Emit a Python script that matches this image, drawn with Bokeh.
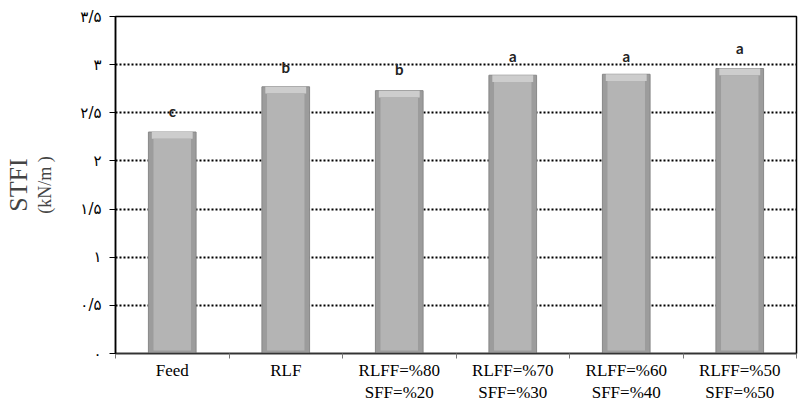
from bokeh.plotting import figure
from bokeh.models import LinearAxis, FixedTicker, Range1d, ColumnDataSource
from bokeh.core.properties import value
from bokeh.embed import file_html
from bokeh.resources import INLINE

categories = ["Feed", "RLF", "RLFF=%80\nSFF=%20", "RLFF=%70\nSFF=%30",
              "RLFF=%60\nSFF=%40", "RLFF=%50\nSFF=%50"]
stfi = [2.30, 2.77, 2.73, 2.89, 2.90, 2.96]
letters = ["c", "b", "b", "a", "a", "a"]
letter_y = [2.52, 2.975, 2.95, 3.09, 3.09, 3.17]
y_ticks = [0, 0.5, 1, 1.5, 2, 2.5, 3, 3.5]
y_tick_labels = ["۰", "۰/۵", "۱", "۱/۵", "۲", "۲/۵", "۳", "۳/۵"]

xpos = [i + 0.5 for i in range(len(categories))]
inner_top = [v - 0.07 for v in stfi]

src = ColumnDataSource(dict(x=xpos, top=stfi, inner_top=inner_top,
                            lx=xpos, ly=letter_y, txt=letters))

p = figure(width=800, height=405, output_backend="svg", toolbar_location=None,
           x_range=Range1d(0, len(categories)), y_range=Range1d(0, 3.5),
           min_border_top=16, min_border_right=4, min_border_left=114,
           min_border_bottom=48)

p.outline_line_color = "black"
p.outline_line_width = 1.5
p.background_fill_color = "white"
p.border_fill_color = "white"

# bars with bevel look
p.vbar(x="x", top="top", bottom=0, width=0.42, source=src,
       fill_color="#9c9c9c", line_color="#888888", line_width=1)
p.vbar(x="x", top="top", bottom="inner_top", width=0.36, source=src,
       fill_color="#cdcdcd", line_color=None)
p.vbar(x="x", top="inner_top", bottom=0.03, width=0.33, source=src,
       fill_color="#b4b4b4", line_color=None)

p.text(x="lx", y="ly", text="txt", source=src, text_align="center",
       text_baseline="middle", text_font=value("Lato"), text_font_style="bold",
       text_font_size="15px", text_color="#222222")

# x axis
xax = p.xaxis[0]
xax.ticker = FixedTicker(ticks=xpos, minor_ticks=list(range(len(categories) + 1)))
xax.major_label_overrides = {x: c for x, c in zip(xpos, categories)}
xax.major_tick_out = 0
xax.major_tick_in = 0
xax.minor_tick_out = 5
xax.minor_tick_in = 0
xax.minor_tick_line_color = "#777777"
xax.axis_line_color = "#333333"
xax.axis_line_width = 1.5
xax.major_label_text_font = "Liberation Serif"
xax.major_label_text_font_size = "17px"
xax.major_label_text_color = "black"
xax.major_label_standoff = 2
p.xgrid.visible = False

# y axis
yax = p.yaxis[0]
yax.ticker = FixedTicker(ticks=y_ticks)
yax.major_label_overrides = {t: l for t, l in zip(y_ticks, y_tick_labels)}
yax.major_tick_out = 6
yax.major_tick_in = 0
yax.minor_tick_line_color = None
yax.axis_line_color = "black"
yax.axis_line_width = 1.5
yax.major_label_text_font = "DejaVu Sans"
yax.major_label_text_font_size = "15px"
yax.major_label_text_color = "black"
yax.major_label_standoff = 8
yax.axis_label = "(kN/m )"
yax.axis_label_text_font = "Liberation Serif"
yax.axis_label_text_font_style = "normal"
yax.axis_label_text_font_size = "18px"
yax.axis_label_standoff = 22

p.ygrid.ticker = FixedTicker(ticks=y_ticks[1:-1])
p.ygrid.grid_line_color = "black"
p.ygrid.grid_line_dash = "2 2"
p.ygrid.grid_line_width = 2

# outer axis carrying the main title
ax2 = LinearAxis(ticker=FixedTicker(ticks=[]))
ax2.axis_line_color = None
ax2.major_tick_line_color = None
ax2.minor_tick_line_color = None
ax2.axis_label = "STFI"
ax2.axis_label_text_font = "Liberation Serif"
ax2.axis_label_text_font_style = "normal"
ax2.axis_label_text_font_size = "26px"
ax2.axis_label_standoff = 0
p.add_layout(ax2, "left")

open("out.html", "w").write(file_html(p, INLINE))
